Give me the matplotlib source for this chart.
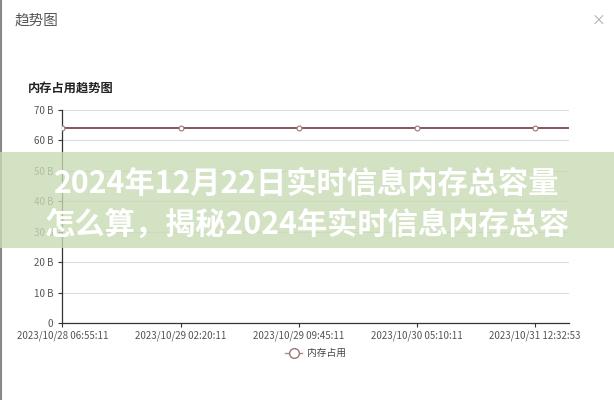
import matplotlib.pyplot as plt
from matplotlib.patches import Rectangle

plt.rcParams['font.family'] = ['Noto Sans CJK SC', 'DejaVu Sans']

# memory usage samples (B), flat around 64
memory = [64, 64, 64, 64, 64, 64, 64, 64, 64, 64,
          64, 64, 64, 64, 64, 64, 64, 64, 64, 64,
          64, 64, 64, 64, 64, 64, 64, 64, 64, 64, 64]
label_step = 7
tick_labels = ['2023/10/28 06:55:11', '2023/10/29 02:20:11', '2023/10/29 09:45:11',
               '2023/10/30 05:10:11', '2023/10/31 12:32:53']
y_ticks = [0, 10, 20, 30, 40, 50, 60, 70]

W, H = 614, 400
fig = plt.figure(figsize=(W / 100, H / 100), dpi=100)
ax = fig.add_axes([62.3 / W, 1 - 323.3 / H, (569 - 62.3) / W, (323.3 - 109.5) / H])

x = list(range(len(memory)))
ax.plot(x, memory, color='#6e3b3e', lw=1.2, marker='o', markersize=3.5,
        markerfacecolor='white', markeredgecolor='#a07478', markeredgewidth=0.8,
        markevery=label_step, zorder=3)
# legend handle drawn in the lighter pink of the reference legend
ax.plot([], [], color='#b08a8e', lw=1.0, marker='o', markersize=7,
        markerfacecolor='white', markeredgecolor='#a07478', markeredgewidth=1.0,
        label='内存占用')

ax.set_xlim(0, len(memory) - 1)
ax.set_ylim(0, 70)
ax.set_yticks(y_ticks)
ax.set_yticklabels(['0' if v == 0 else f'{v} B' for v in y_ticks])
ax.set_xticks(x[::label_step][:len(tick_labels)])
ax.set_xticklabels(tick_labels)
ax.tick_params(axis='both', labelsize=7, colors='#333333', labelcolor='#555555',
               length=3, width=0.8)
ax.tick_params(axis='x', pad=2)
ax.grid(axis='y', color='#dddddd', lw=0.8)
ax.set_axisbelow(True)
for s in ['top', 'right']:
    ax.spines[s].set_visible(False)
for s in ['left', 'bottom']:
    ax.spines[s].set_color('#333333')
    ax.spines[s].set_linewidth(0.9)

leg = ax.legend(loc='upper center', bbox_to_anchor=(0.5, -0.075), frameon=False,
                fontsize=7, handlelength=1.8, handletextpad=0.5, labelcolor='#444444')

# dialog chrome
fig.add_artist(plt.Line2D([0.002, 0.002], [0, 1], color='#888888', lw=1.5))
fig.text(15 / W, 1 - 21 / H, '趋势图', fontsize=10.5, color='#555555', va='center')
fig.text(605 / W, 1 - 21 / H, '×', fontsize=10, color='#aaaaaa', va='center', ha='right')
fig.text(28 / W, 1 - 88 / H, '内存占用趋势图', fontsize=8.8, color='#222222',
         va='center', fontweight='bold')

# overlay banner
fig.patches.append(Rectangle((0, 1 - 247.5 / H), 1, (247.5 - 152.3) / H,
                             transform=fig.transFigure, facecolor='#c9dbb5',
                             alpha=0.8, zorder=5))
fig.text(0.5, 1 - 184 / H, '2024年12月22日实时信息内存总容量', fontsize=21.8,
         color='white', fontweight='bold', ha='center', va='center', zorder=6)
fig.text(0.5, 1 - 225 / H, '怎么算，揭秘2024年实时信息内存总容', fontsize=21.8,
         color='white', fontweight='bold', ha='center', va='center', zorder=6)

fig.savefig('out.png', dpi=100)
